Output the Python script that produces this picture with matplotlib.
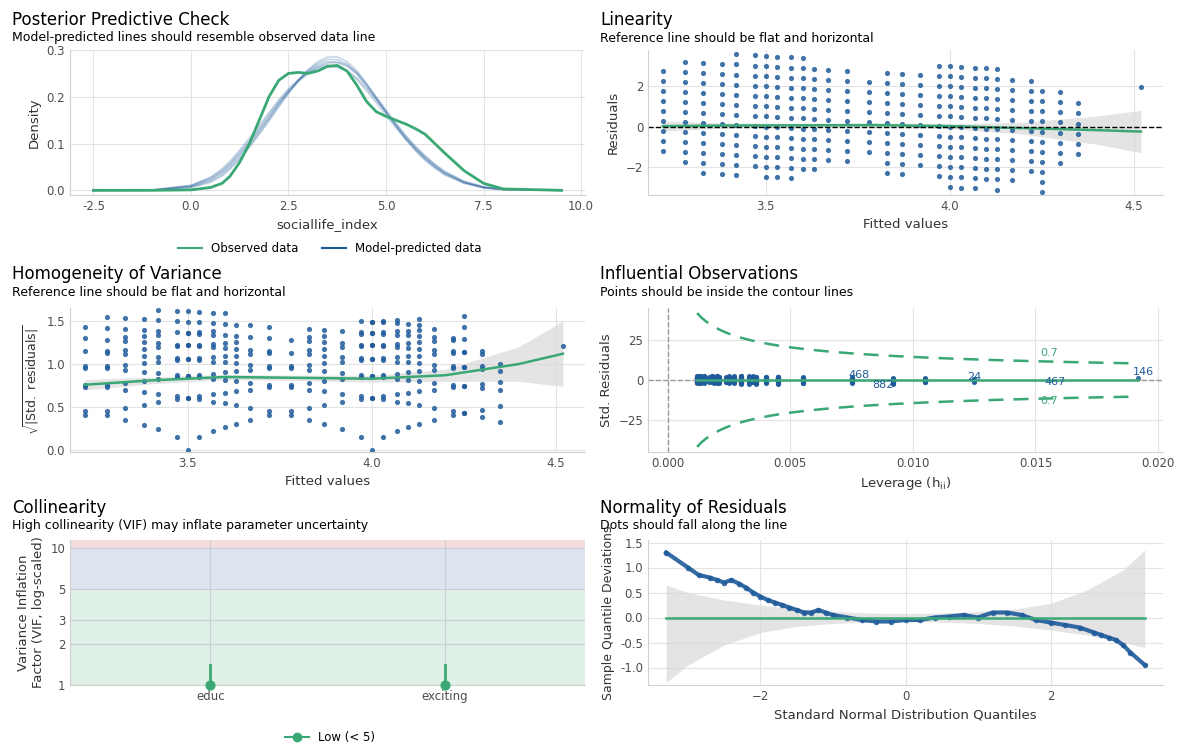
import numpy as np
import matplotlib
matplotlib.use("Agg")
import matplotlib.pyplot as plt
from matplotlib.lines import Line2D

BLUE = "#1f5b9b"
GREEN = "#3aa875"
GRID = "#e3e3e3"
TXT = "#4d4d4d"

# ---------------- data ----------------
dens_x = [-2.5, -1.0, 0.0, 0.5, 0.8, 1.0, 1.25, 1.5, 1.75, 2.0, 2.25, 2.5, 2.75, 3.0, 3.25, 3.5, 3.75, 4.0, 4.25, 4.5, 4.75, 5.0, 5.25, 5.5, 5.75, 6.0, 6.25, 6.5, 7.0, 7.5, 8.0, 9.5]
dens_obs = [0, 0, 0.001, 0.006, 0.015, 0.03, 0.06, 0.1, 0.15, 0.2, 0.235, 0.25, 0.252, 0.25, 0.255, 0.265, 0.267, 0.255, 0.225, 0.19, 0.168, 0.158, 0.15, 0.142, 0.132, 0.12, 0.1, 0.08, 0.042, 0.015, 0.003, 0]
dens_model = [
    [0, 0.0004, 0.008, 0.022, 0.038, 0.052, 0.075, 0.1, 0.127, 0.155, 0.185, 0.212, 0.235, 0.255, 0.268, 0.275, 0.273, 0.265, 0.248, 0.222, 0.195, 0.167, 0.14, 0.113, 0.09, 0.07, 0.052, 0.037, 0.018, 0.007, 0.002, 0],
    [0, 0.0005, 0.01, 0.026, 0.043, 0.058, 0.082, 0.107, 0.134, 0.162, 0.19, 0.214, 0.234, 0.25, 0.26, 0.265, 0.263, 0.256, 0.24, 0.218, 0.193, 0.167, 0.141, 0.116, 0.093, 0.073, 0.056, 0.041, 0.02, 0.008, 0.003, 0],
    [0, 0.0002, 0.006, 0.017, 0.031, 0.045, 0.067, 0.092, 0.12, 0.148, 0.178, 0.207, 0.235, 0.258, 0.275, 0.285, 0.285, 0.275, 0.256, 0.228, 0.198, 0.167, 0.137, 0.109, 0.085, 0.064, 0.047, 0.033, 0.015, 0.005, 0.001, 0],
    [0, 0.0004, 0.009, 0.024, 0.04, 0.055, 0.078, 0.103, 0.13, 0.157, 0.186, 0.21, 0.232, 0.25, 0.264, 0.272, 0.274, 0.268, 0.252, 0.228, 0.2, 0.172, 0.145, 0.118, 0.094, 0.074, 0.055, 0.039, 0.017, 0.006, 0.002, 0],
    [0, 0.0006, 0.011, 0.028, 0.046, 0.062, 0.086, 0.112, 0.139, 0.166, 0.193, 0.217, 0.237, 0.253, 0.263, 0.268, 0.265, 0.255, 0.237, 0.213, 0.187, 0.16, 0.134, 0.11, 0.088, 0.068, 0.051, 0.037, 0.017, 0.006, 0.002, 0],
    [0, 0.0003, 0.007, 0.019, 0.034, 0.048, 0.07, 0.095, 0.123, 0.151, 0.181, 0.209, 0.234, 0.256, 0.271, 0.28, 0.279, 0.27, 0.251, 0.225, 0.196, 0.167, 0.139, 0.112, 0.088, 0.067, 0.05, 0.035, 0.016, 0.006, 0.002, 0],
]

fitted_cols = [3.22, 3.28, 3.33, 3.38, 3.42, 3.47, 3.50, 3.53, 3.57, 3.60, 3.63, 3.67, 3.72, 3.78, 3.83, 3.87, 3.92, 3.97, 4.00, 4.03, 4.07, 4.10, 4.13, 4.17, 4.22, 4.25, 4.30, 4.35, 4.52]
y_lo = [2, 1.5, 1, 1, 1, 1.5, 1, 1, 1, 1.5, 1.5, 2, 2, 2.5, 1.5, 1.5, 2, 1.5, 1, 1, 1, 1.5, 1, 1.5, 2, 1, 2.5, 3, 6.5]
y_hi = [6, 6.5, 6.5, 6.5, 7, 7, 7, 7, 7, 7, 6.5, 6.5, 6.5, 6, 6.5, 6.5, 6.5, 7, 7, 7, 7, 7, 7, 6.5, 6.5, 6, 6, 5.5, 6.5]
lev_cols = [0.0045, 0.0035, 0.003, 0.0025, 0.002, 0.0018, 0.0015, 0.0013, 0.0012, 0.0012, 0.0013, 0.0014, 0.0015, 0.0017, 0.0019, 0.0021, 0.0024, 0.0027, 0.003, 0.0033, 0.0036, 0.004, 0.0045, 0.0055, 0.0075, 0.0092, 0.0105, 0.0125, 0.0192]
obs_levels = [1.0, 1.5, 2.0, 2.5, 3.0, 3.5, 4.0, 4.5, 5.0, 5.5, 6.0, 6.5, 7.0]
resid_sd = 1.35

lin_smooth_x = [3.22, 3.4, 3.6, 3.8, 4.0, 4.2, 4.4, 4.52]
lin_smooth_y = [0.02, 0.05, 0.06, 0.07, 0.02, -0.08, -0.18, -0.25]
lin_band = [0.25, 0.12, 0.1, 0.1, 0.12, 0.3, 0.7, 1.05]

hom_smooth_y = [0.76, 0.81, 0.85, 0.84, 0.83, 0.87, 1.0, 1.12]
hom_band = [0.06, 0.04, 0.03, 0.03, 0.04, 0.07, 0.2, 0.38]

infl_labels = ["468", "882", "24", "467", "146"]
infl_lab_x = [0.0078, 0.0088, 0.0125, 0.0158, 0.0194]
infl_lab_y = [3, -3, 2, -1, 5]

vif_terms = ["educ", "exciting"]
vif_vals = [1.0, 1.0]
vif_hi = [1.4, 1.4]

qq_x = [-3.3, -3.0, -2.85, -2.7, -2.6, -2.5, -2.4, -2.3, -2.2, -2.1, -2.0, -1.9, -1.8, -1.7, -1.6, -1.5, -1.4, -1.3, -1.2, -1.1, -1.0, -0.8, -0.6, -0.4, -0.2, 0.0, 0.2, 0.4, 0.6, 0.8, 1.0, 1.2, 1.4, 1.6, 1.8, 2.0, 2.2, 2.4, 2.6, 2.7, 2.8, 2.9, 3.0, 3.1, 3.3]
qq_d = [1.3, 1.0, 0.85, 0.8, 0.75, 0.7, 0.75, 0.68, 0.6, 0.5, 0.42, 0.35, 0.3, 0.25, 0.2, 0.15, 0.1, 0.1, 0.15, 0.1, 0.05, 0.0, -0.05, -0.08, -0.08, -0.05, -0.05, 0.0, 0.02, 0.05, 0.0, 0.1, 0.1, 0.05, -0.05, -0.1, -0.15, -0.2, -0.3, -0.35, -0.4, -0.45, -0.55, -0.7, -0.95]
qq_band_x = [-3.3, -3.0, -2.5, -2.0, -1.5, -1.0, -0.5, 0.0, 0.5, 1.0, 1.5, 2.0, 2.5, 3.0, 3.3]
qq_band_hi = [0.65, 0.5, 0.35, 0.25, 0.17, 0.12, 0.09, 0.08, 0.09, 0.12, 0.17, 0.28, 0.55, 0.95, 1.35]
qq_band_lo = [-1.3, -0.95, -0.55, -0.3, -0.18, -0.12, -0.09, -0.08, -0.09, -0.12, -0.17, -0.25, -0.35, -0.5, -0.6]

# ------------- derived point arrays -------------
fx, res, lev = [], [], []
for f, lo, hi, lv in zip(fitted_cols, y_lo, y_hi, lev_cols):
    for y in obs_levels:
        if lo <= y <= hi:
            fx.append(f); res.append(y - f); lev.append(lv)
fx = np.array(fx); res = np.array(res); lev = np.array(lev)
std_res = res / resid_sd

# ------------- figure -------------
plt.rcParams["font.family"] = "DejaVu Sans"
fig = plt.figure(figsize=(11.78, 7.56), dpi=100)
W, H = 1178, 756

def mkax(l, r, t, b):
    ax = fig.add_axes([l / W, 1 - b / H, (r - l) / W, (b - t) / H])
    ax.set_facecolor("white")
    for s in ["top", "right"]:
        ax.spines[s].set_visible(False)
    for s in ["left", "bottom"]:
        ax.spines[s].set_color("#d0d0d0")
    ax.grid(True, color=GRID, lw=0.8)
    ax.set_axisbelow(True)
    ax.tick_params(colors=TXT, labelsize=8.5, length=0)
    return ax

def titles(x, y, t, s):
    fig.text(x / W, 1 - y / H, t, fontsize=12, color="black", va="center")
    fig.text(x / W, 1 - (y + 18) / H, s, fontsize=9, color="black", va="center")

# Panel 1
ax = mkax(70, 585, 50, 195)
for m in dens_model:
    ax.plot(dens_x, m, color=BLUE, alpha=0.25, lw=1.2)
ax.plot(dens_x, dens_obs, color=GREEN, lw=2)
ax.set_xlim(-3.1, 10.1); ax.set_ylim(-0.01, 0.3)
ax.set_xticks([-2.5, 0, 2.5, 5, 7.5, 10]); ax.set_xticklabels(["-2.5", "0.0", "2.5", "5.0", "7.5", "10.0"])
ax.set_yticks([0, 0.1, 0.2, 0.3]); ax.set_yticklabels(["0.0", "0.1", "0.2", "0.3"])
ax.set_xlabel("sociallife_index", fontsize=9.5, color="#333333")
ax.set_ylabel("Density", fontsize=9.5, color="#333333")
fig.legend([Line2D([], [], color=GREEN), Line2D([], [], color=BLUE)],
           ["Observed data", "Model-predicted data"], loc="center",
           bbox_to_anchor=(330 / W, 1 - 249 / H), ncol=2, frameon=False, fontsize=8.5)
titles(12, 20, "Posterior Predictive Check", "Model-predicted lines should resemble observed data line")

# Panel 2
ax = mkax(648, 1163, 50, 195)
ax.fill_between(lin_smooth_x, np.array(lin_smooth_y) - lin_band, np.array(lin_smooth_y) + lin_band, color="#d9d9d9", alpha=0.7, lw=0)
ax.scatter(fx, res, s=14, color=BLUE, alpha=0.85, lw=0)
ax.plot(lin_smooth_x, lin_smooth_y, color=GREEN, lw=1.8)
ax.axhline(0, color="black", ls="--", lw=1)
ax.set_xlim(3.18, 4.58); ax.set_ylim(-3.4, 3.8)
ax.set_xticks([3.5, 4.0, 4.5]); ax.set_yticks([-2, 0, 2])
ax.set_xlabel("Fitted values", fontsize=9.5, color="#333333")
ax.set_ylabel("Residuals", fontsize=9.5, color="#333333")
titles(600, 20, "Linearity", "Reference line should be flat and horizontal")

# Panel 3
ax = mkax(70, 585, 308, 452)
ax.fill_between(lin_smooth_x, np.array(hom_smooth_y) - hom_band, np.array(hom_smooth_y) + hom_band, color="#d9d9d9", alpha=0.7, lw=0)
ax.scatter(fx, np.sqrt(np.abs(std_res)), s=14, color=BLUE, alpha=0.85, lw=0)
ax.plot(lin_smooth_x, hom_smooth_y, color=GREEN, lw=1.8)
ax.set_xlim(3.18, 4.58); ax.set_ylim(-0.02, 1.65)
ax.set_xticks([3.5, 4.0, 4.5]); ax.set_yticks([0, 0.5, 1.0, 1.5])
ax.set_yticklabels(["0.0", "0.5", "1.0", "1.5"])
ax.set_xlabel("Fitted values", fontsize=9.5, color="#333333")
ax.set_ylabel(r"$\sqrt{|\mathrm{Std.\ residuals}|}$", fontsize=9, color="#333333")
titles(12, 274, "Homogeneity of Variance", "Reference line should be flat and horizontal")

# Panel 4
ax = mkax(648, 1163, 308, 452)
hh = np.linspace(0.0012, 0.0192, 100)
cont = np.sqrt(0.7 * 3 * (1 - hh) / hh)
ax.plot(hh, cont, color=GREEN, ls=(0, (6, 4)), lw=1.8)
ax.plot(hh, -cont, color=GREEN, ls=(0, (6, 4)), lw=1.8)
ax.axhline(0, color="#999999", ls="--", lw=1)
ax.axvline(0, color="#999999", ls="--", lw=1)
ax.scatter(lev, std_res, s=14, color=BLUE, alpha=0.85, lw=0)
ax.plot([0.0012, 0.0192], [0, 0], color=GREEN, lw=1.8)
for t, x, y in zip(infl_labels, infl_lab_x, infl_lab_y):
    ax.text(x, y, t, fontsize=8, color=BLUE, ha="center", va="center")
ax.text(0.0152, 15, "0.7", fontsize=8, color=GREEN)
ax.text(0.0152, -15, "0.7", fontsize=8, color=GREEN)
ax.set_xlim(-0.0008, 0.0202); ax.set_ylim(-45, 45)
ax.set_xticks([0, 0.005, 0.01, 0.015, 0.02]); ax.set_xticklabels(["0.000", "0.005", "0.010", "0.015", "0.020"])
ax.set_yticks([-25, 0, 25])
ax.set_xlabel(r"Leverage ($\mathrm{h_{ii}}$)", fontsize=9.5, color="#333333")
ax.set_ylabel("Std. Residuals", fontsize=9.5, color="#333333")
titles(600, 274, "Influential Observations", "Points should be inside the contour lines")

# Panel 5
ax = mkax(70, 585, 540, 685)
ax.set_yscale("log")
ax.axhspan(1, 5, color="#dff0e7", lw=0, zorder=0)
ax.axhspan(5, 10, color="#dde5f0", lw=0, zorder=0)
ax.axhspan(10, 11.5, color="#f6dcdc", lw=0, zorder=0)
xpos = np.arange(len(vif_terms))
for xp, v, h in zip(xpos, vif_vals, vif_hi):
    ax.plot([xp, xp], [v, h], color=GREEN, lw=2)
ax.scatter(xpos, vif_vals, s=40, color=GREEN, zorder=3, clip_on=False)
ax.set_xlim(-0.6, 1.6); ax.set_ylim(1, 11.5)
ax.set_xticks(xpos); ax.set_xticklabels(vif_terms)
ax.set_yticks([1, 2, 3, 5, 10]); ax.set_yticklabels(["1", "2", "3", "5", "10"])
ax.yaxis.set_minor_locator(matplotlib.ticker.NullLocator())
ax.grid(True, color="#c9ced6", lw=0.8)
ax.set_ylabel("Variance Inflation\nFactor (VIF, log-scaled)", fontsize=9.5, color="#333333")
fig.legend([Line2D([], [], color=GREEN, marker="o", lw=1.5)], ["Low (< 5)"], loc="center",
           bbox_to_anchor=(330 / W, 1 - 738 / H), frameon=False, fontsize=8.5)
titles(12, 508, "Collinearity", "High collinearity (VIF) may inflate parameter uncertainty")

# Panel 6
ax = mkax(648, 1163, 540, 685)
ax.fill_between(qq_band_x, qq_band_lo, qq_band_hi, color="#d9d9d9", alpha=0.7, lw=0)
ax.plot(qq_x, qq_d, color=BLUE, lw=3, alpha=0.9)
ax.scatter(qq_x, qq_d, s=16, color=BLUE, alpha=0.85, lw=0)
ax.axhline(0, xmin=0.035, xmax=0.965, color=GREEN, lw=1.8)
ax.set_xlim(-3.55, 3.55); ax.set_ylim(-1.35, 1.55)
ax.set_xticks([-2, 0, 2]); ax.set_yticks([-1.0, -0.5, 0, 0.5, 1.0, 1.5])
ax.set_yticklabels(["-1.0", "-0.5", "0.0", "0.5", "1.0", "1.5"])
ax.set_xlabel("Standard Normal Distribution Quantiles", fontsize=9.5, color="#333333")
ax.set_ylabel("Sample Quantile Deviations", fontsize=9, color="#333333")
titles(600, 508, "Normality of Residuals", "Dots should fall along the line")

fig.savefig("out.png", dpi=100)
